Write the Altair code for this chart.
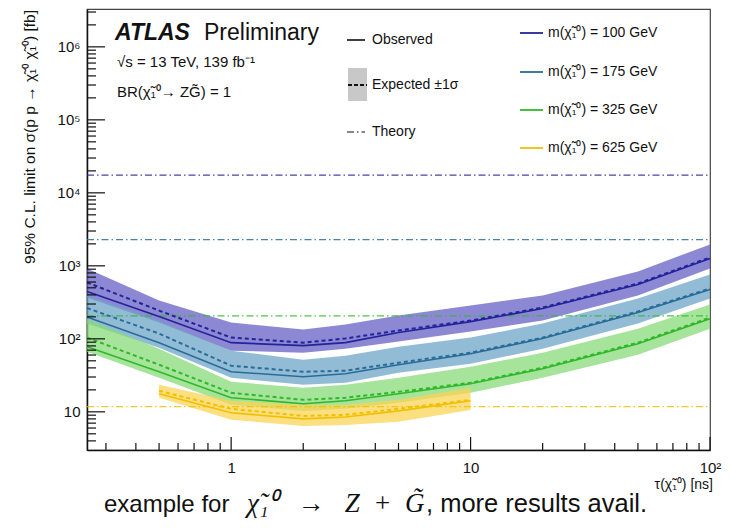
import altair as alt
import pandas as pd

# ---------------- data ----------------
tau = [0.25, 0.5, 1, 2, 3, 5, 10, 20, 50, 100]
tau_625 = [0.5, 1, 2, 3, 5, 10]

exp_100 = [592, 244, 104, 88.7, 101, 130, 178, 268, 573, 1303]
obs_100 = [445, 202, 88.7, 80.7, 88.7, 122, 172, 260, 556, 1265]
up_100 = [921, 335, 167, 134, 157, 208, 286, 392, 838, 1968]
dn_100 = [368, 167, 68.9, 64.6, 73.3, 91.6, 126, 178, 392, 921]

exp_175 = [264, 118, 42.9, 35.4, 36.6, 47.1, 64.6, 104, 237, 490]
obs_175 = [199, 88.7, 35.4, 30.3, 33.2, 44.2, 62.6, 101, 229, 474]
up_175 = [392, 178, 68.9, 51.8, 58.8, 78.2, 104, 162, 356, 762]
dn_175 = [162, 75.7, 29.3, 23.5, 25.0, 34.4, 45.6, 73.3, 162, 356]

exp_325 = [104, 44.2, 18.2, 14.6, 15.6, 18.8, 25.0, 40.2, 88.7, 195]
obs_325 = [78.2, 35.4, 15.6, 12.9, 14.2, 17.7, 24.3, 39.0, 85.9, 189]
up_325 = [189, 73.3, 25.8, 21.4, 23.5, 29.3, 41.5, 64.6, 138, 295]
dn_325 = [66.7, 29.3, 12.5, 10.3, 11.0, 13.3, 18.2, 29.3, 60.7, 138]

exp_625 = [19.4, 11.0, 8.8, 9.1, 11.0, 14.6]
obs_625 = [17.7, 9.7, 8.0, 8.5, 10.3, 14.2]
up_625 = [23.5, 14.2, 12.5, 12.5, 14.6, 21.4]
dn_625 = [15.6, 7.8, 6.4, 6.6, 7.3, 10.6]

masses = ["100", "175", "325", "625"]
theory_xsec = [17460, 2285, 206, 11.8]
theory_tau = [0.25, 100]

x_major = [1, 10, 100]
x_minor = [0.3, 0.4, 0.5, 0.6, 0.7, 0.8, 0.9, 2, 3, 4, 5, 6, 7, 8, 9,
           20, 30, 40, 50, 60, 70, 80, 90]
y_major = [10, 100, 1000, 10000, 100000, 1000000]
y_minor = [4, 5, 6, 7, 8, 9] + [m * 10 ** k for k in range(1, 6) for m in range(2, 10)] + [2000000, 3000000]

# ---------------- style ----------------
line_colors = ["#23239a", "#2a6c98", "#2fb82a", "#f0c000"]
band_colors = ["#6560c4", "#6ea5c8", "#88da7a", "#fbd455"]
W, H = 623, 441
FONT = "Liberation Sans"

xs = alt.Scale(type="log", domain=[0.25, 100], nice=False)
ys = alt.Scale(type="log", domain=[3, 3300000], nice=False)
xaxis = alt.Axis(values=x_major, ticks=False, grid=False, title=None,
                 labelExpr="datum.value == 100 ? '10²' : (datum.value == 10 ? '10' : '1')",
                 labelFontSize=15, labelFont=FONT, labelColor="#111", labelPadding=10,
                 labelFlush=False, labelOverlap=False,
                 domainColor="#111", domainWidth=1.5)
yaxis = alt.Axis(values=y_major, ticks=False, grid=False, title=None,
                 labelExpr="datum.value == 10 ? '10' : datum.value == 100 ? '10²' : datum.value == 1000 ? '10³' : datum.value == 10000 ? '10⁴' : datum.value == 100000 ? '10⁵' : '10⁶'",
                 labelFontSize=15, labelFont=FONT, labelColor="#111", labelPadding=7,
                 labelFlush=False, labelOverlap=False,
                 domainColor="#111", domainWidth=1.5)


def X(f):
    return alt.X(f, type="quantitative", scale=xs, axis=xaxis)


def Y(f):
    return alt.Y(f, type="quantitative", scale=ys, axis=yaxis)


series = [
    (tau, exp_100, obs_100, up_100, dn_100),
    (tau, exp_175, obs_175, up_175, dn_175),
    (tau, exp_325, obs_325, up_325, dn_325),
    (tau_625, exp_625, obs_625, up_625, dn_625),
]

layers = []
# bands
for i, (t, e, o, u, d) in enumerate(series):
    df = pd.DataFrame({"tau": t, "exp": e, "obs": o, "up": u, "dn": d})
    layers.append(alt.Chart(df).mark_area(color=band_colors[i], opacity=0.75)
                  .encode(x=X("tau"), y=Y("dn"), y2=alt.Y2("up")))
# theory lines
for i, m in enumerate(masses):
    dft = pd.DataFrame({"tau": theory_tau, "xsec": [theory_xsec[i]] * 2})
    layers.append(alt.Chart(dft).mark_line(color=line_colors[i], strokeWidth=1.2,
                                            strokeDash=[7, 3, 1.5, 3], opacity=0.85)
                  .encode(x=X("tau"), y=Y("xsec")))
# expected and observed
for i, (t, e, o, u, d) in enumerate(series):
    df = pd.DataFrame({"tau": t, "exp": e, "obs": o})
    layers.append(alt.Chart(df).mark_line(color=line_colors[i], strokeWidth=2,
                                           strokeDash=[4, 3])
                  .encode(x=X("tau"), y=Y("exp")))
    layers.append(alt.Chart(df).mark_line(color=line_colors[i], strokeWidth=1.6)
                  .encode(x=X("tau"), y=Y("obs")))

# inner ticks
layers.append(alt.Chart(pd.DataFrame({"t": x_major})).mark_rule(color="#111", strokeWidth=1.2)
              .encode(x=X("t"), y=alt.value(H), y2=alt.value(H - 13)))
layers.append(alt.Chart(pd.DataFrame({"t": x_minor})).mark_rule(color="#111", strokeWidth=1.2)
              .encode(x=X("t"), y=alt.value(H), y2=alt.value(H - 7)))
layers.append(alt.Chart(pd.DataFrame({"t": y_major})).mark_rule(color="#111", strokeWidth=1.2)
              .encode(y=Y("t"), x=alt.value(0), x2=alt.value(18)))
layers.append(alt.Chart(pd.DataFrame({"t": y_minor})).mark_rule(color="#111", strokeWidth=1.2)
              .encode(y=Y("t"), x=alt.value(0), x2=alt.value(9)))

one = pd.DataFrame({"k": [0]})


def text(s, x, y, size=14, align="left", baseline="middle", font=FONT, **kw):
    return alt.Chart(one).mark_text(text=s, fontSize=size, font=font, align=align,
                                    baseline=baseline, color="#111", **kw).encode(
        x=alt.value(x), y=alt.value(y))


def hrule(x1, x2, y, color="#111", **kw):
    return alt.Chart(one).mark_rule(color=color, **kw).encode(
        x=alt.value(x1), x2=alt.value(x2), y=alt.value(y))


# ATLAS label
layers.append(text("ATLAS", 28, 31, size=23, fontWeight="bold", fontStyle="italic", baseline="alphabetic"))
layers.append(text("Preliminary", 117, 31, size=23, baseline="alphabetic"))
layers.append(text("√s = 13 TeV, 139 fb⁻¹", 30, 58, size=15, baseline="alphabetic"))
layers.append(text("BR(χ̃₁⁰→ ZG̃) = 1", 30, 88, size=15, baseline="alphabetic"))

# legend (line styles)
layers.append(hrule(260, 278, 31, strokeWidth=1.6))
layers.append(text("Observed", 285, 31))
layers.append(alt.Chart(one).mark_rect(color="#c8c8c8").encode(
    x=alt.value(261), x2=alt.value(280), y=alt.value(59), y2=alt.value(92)))
layers.append(hrule(261, 280, 76, strokeWidth=2, strokeDash=[4, 2]))
layers.append(text("Expected ±1σ", 285, 76))
layers.append(hrule(260, 278, 123, strokeWidth=1.2, strokeDash=[7, 3, 1.5, 3]))
layers.append(text("Theory", 285, 123))

# legend (masses)
for i, m in enumerate(masses):
    yy = [24, 63, 101, 139][i]
    layers.append(hrule(433, 456, yy, color=line_colors[i], strokeWidth=1.8))
    layers.append(text("m(χ̃₁⁰) = " + m + " GeV", 461, yy))

# axis titles
layers.append(text("95% C.L. limit on σ(p p → χ̃₁⁰ χ̃₁⁰) [fb]", -57, 1, size=15.5,
                   align="right", angle=270))
layers.append(text("τ(χ̃₁⁰) [ns]", 626, 476, size=14, align="right"))

# caption
NB = "\u00a0"
layers.append(text("example for", 17, 503, size=24, baseline="alphabetic"))
layers.append(text("χ̃₁⁰" + NB * 3 + "→" + NB * 3 + "Z" + NB * 2 + "+" + NB * 2 + "G̃", 160, 503, size=27,
                   baseline="alphabetic", font="Liberation Serif", fontStyle="italic"))
layers.append(text(", more results avail.", 339, 503, size=25.5, baseline="alphabetic"))

chart = alt.layer(*layers).properties(
    width=W, height=H,
    padding={"left": 87, "top": 9, "right": 21, "bottom": 81},
    autosize=alt.AutoSizeParams(type="none"),
    background="white",
).configure_view(stroke="#444", strokeWidth=1.2)

chart.save("out.html", embed_options={"renderer": "svg", "actions": False})
